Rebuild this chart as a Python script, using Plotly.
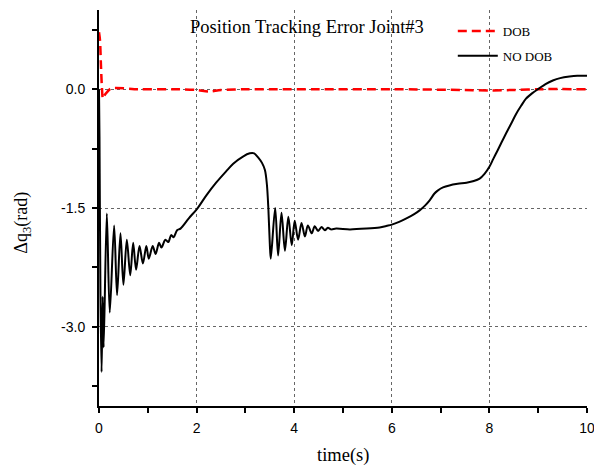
import plotly.graph_objects as go

# ---- data ----
t_nodob = [0, 0.01, 0.03, 0.053, 0.075, 0.095, 0.16, 0.22, 0.31, 0.37, 0.44, 0.50,
           0.57, 0.64, 0.70, 0.76, 0.83, 0.90, 0.97, 1.02, 1.10, 1.16, 1.23, 1.28,
           1.36, 1.42, 1.48, 1.53, 1.60, 1.67, 1.84, 2.01, 2.20, 2.40, 2.60, 2.75,
           2.95, 3.09, 3.18, 3.26, 3.34, 3.40, 3.44, 3.47, 3.50, 3.52, 3.61, 3.67,
           3.74, 3.81, 3.88, 3.95, 4.01, 4.08, 4.15, 4.22, 4.28, 4.36, 4.42, 4.49,
           4.56, 4.63, 4.69, 4.76, 4.86, 5.14, 5.48, 5.75, 5.90, 6.0, 6.15, 6.30,
           6.45, 6.57, 6.68, 6.78, 6.87, 6.94, 7.05, 7.18, 7.35, 7.53, 7.68, 7.80,
           7.90, 8.00, 8.08, 8.17, 8.25, 8.34, 8.45, 8.55, 8.65, 8.75, 8.88, 9.02,
           9.15, 9.30, 9.45, 9.64, 9.80, 10.0]
v_nodob = [0.0, -0.6, -2.6, -3.57, -2.62, -3.26, -1.57, -2.82, -1.72, -2.60, -1.82, -2.47,
           -1.90, -2.35, -1.94, -2.28, -1.98, -2.20, -1.98, -2.14, -1.98, -2.08, -1.94, -2.00,
           -1.90, -1.93, -1.84, -1.87, -1.78, -1.76, -1.63, -1.51, -1.34, -1.18, -1.04, -0.94,
           -0.85, -0.81, -0.81, -0.86, -0.93, -1.02, -1.20, -1.50, -1.95, -2.14, -1.50, -2.10,
           -1.56, -2.04, -1.61, -1.97, -1.66, -1.90, -1.69, -1.86, -1.72, -1.82, -1.73, -1.79,
           -1.74, -1.78, -1.75, -1.77, -1.76, -1.77, -1.76, -1.745, -1.725, -1.71, -1.675, -1.63,
           -1.58, -1.53, -1.47, -1.40, -1.32, -1.28, -1.24, -1.215, -1.195, -1.18, -1.16, -1.13,
           -1.07, -0.98, -0.88, -0.77, -0.67, -0.56, -0.43, -0.31, -0.21, -0.12, -0.05, 0.01,
           0.065, 0.11, 0.14, 0.16, 0.17, 0.17]

t_dob = [0, 0.02, 0.04, 0.06, 0.08, 0.11, 0.16, 0.25, 0.8, 1.5, 2.0, 2.25, 2.5, 3.0,
         3.6, 4.5, 6.0, 7.5, 8.0, 8.5, 9.0, 10.0]
v_dob = [0.72, 0.62, 0.3, 0.02, -0.12, -0.08, -0.04, 0.01, 0.0, 0.0, -0.01, -0.03, -0.01, 0.0,
         0.0, 0.0, 0.0, -0.01, -0.015, -0.01, 0.0, 0.0]

y_tick_vals = [0.0, -1.5, -3.0]
y_tick_text = ["0.0", "-1.5", "-3.0"]
y_minor_vals = [0.75, -0.75, -2.25, -3.75]
x_tick_vals = [0, 2, 4, 6, 8, 10]
x_tick_text = ["0", "2", "4", "6", "8", "10"]
x_minor_vals = [1, 3, 5, 7, 9]

serif = "Liberation Serif"
sans = "Liberation Sans"

fig = go.Figure()
fig.add_trace(go.Scatter(x=t_dob, y=v_dob, mode="lines", name="DOB", legendgroup="a",
                         line=dict(color="#ff0000", width=2.5, dash="9px,5px",
                                   shape="spline", smoothing=0.8)))
fig.add_trace(go.Scatter(x=t_nodob, y=v_nodob, mode="lines", name="NO DOB", legendgroup="b",
                         line=dict(color="black", width=2, shape="spline", smoothing=0.9)))

fig.update_layout(
    width=594, height=468,
    margin=dict(l=99, r=7, t=10, b=62, autoexpand=False),
    paper_bgcolor="white", plot_bgcolor="white",
    showlegend=True,
    legend=dict(x=0.725, y=0.985, xanchor="left", yanchor="top",
                bgcolor="rgba(0,0,0,0)", font=dict(family=serif, size=13, color="black"),
                itemwidth=40, tracegroupgap=5),
    annotations=[
        dict(text="Position Tracking Error Joint#3", xref="paper", yref="paper",
             x=0.426, y=0.957, showarrow=False, xanchor="center", yanchor="middle",
             font=dict(family=serif, size=18.5, color="black")),
        dict(text="time(s)", xref="paper", yref="paper", x=0.5, y=-0.1246,
             showarrow=False, xanchor="center", yanchor="middle",
             font=dict(family=serif, size=18.5, color="black")),
        dict(text="Δq<sub>3</sub>(rad)", xref="paper", yref="paper", x=-0.157, y=0.464,
             showarrow=False, xanchor="center", yanchor="middle", textangle=-90,
             font=dict(family=serif, size=18, color="black")),
    ],
)

fig.update_xaxes(range=[0, 10], tickmode="array", tickvals=x_tick_vals, ticktext=x_tick_text,
                 automargin=False,
                 showline=True, linecolor="black", linewidth=2, mirror=False,
                 ticks="outside", ticklen=5, tickwidth=1.5, tickcolor="black",
                 showgrid=True, gridcolor="#666666", griddash="dot", gridwidth=1,
                 zeroline=False, ticklabelstandoff=3, ticklabeloverflow="allow",
                 tickfont=dict(family=sans, size=14, color="black"),
                 minor=dict(tickvals=x_minor_vals, ticks="outside", ticklen=5,
                            tickwidth=1.5, tickcolor="black", showgrid=False))
fig.update_yaxes(range=[-4, 1], tickmode="array", tickvals=y_tick_vals, ticktext=y_tick_text,
                 automargin=False,
                 showline=True, linecolor="black", linewidth=2, mirror=False,
                 ticks="outside", ticklen=5, tickwidth=1.5, tickcolor="black",
                 showgrid=True, gridcolor="#666666", griddash="dot", gridwidth=1,
                 zeroline=False, ticklabelstandoff=4,
                 tickfont=dict(family=sans, size=14, color="black"),
                 minor=dict(tickvals=y_minor_vals, ticks="outside", ticklen=5,
                            tickwidth=1.5, tickcolor="black", showgrid=False))

fig.write_html("out.html")
